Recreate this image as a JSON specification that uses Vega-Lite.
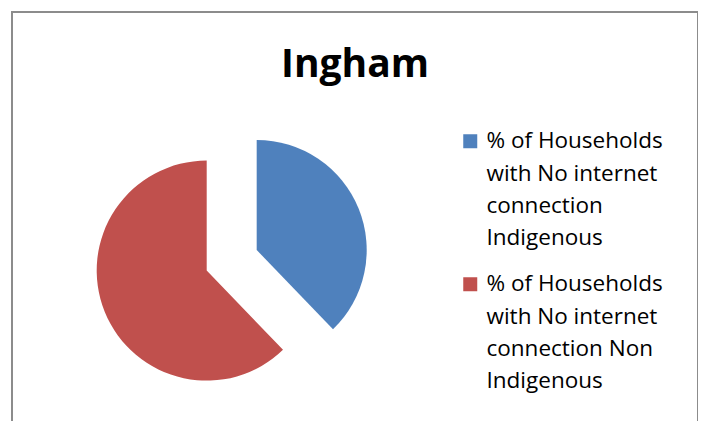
{
  "$schema": "https://vega.github.io/schema/vega-lite/v6.json",
  "width": 686,
  "height": 430,
  "autosize": {"type": "none"},
  "padding": {"left": 12, "top": 12, "right": 0, "bottom": 0},
  "background": "white",
  "view": {"stroke": "#8c8c8c", "strokeWidth": 2},
  "title": {
    "text": "Ingham",
    "font": "Open Sans",
    "fontSize": 39,
    "fontWeight": "bold",
    "color": "#000000",
    "anchor": "middle",
    "baseline": "alphabetic",
    "offset": -104
  },
  "data": {
    "values": [
      {"category": "% of Households with No internet connection Indigenous", "value": 37.8},
      {"category": "% of Households with No internet connection Non Indigenous", "value": 62.2}
    ]
  },
  "transform": [
    {"stack": "value", "groupby": [], "sort": [{"field": "category", "order": "ascending"}], "as": ["v0", "v1"]}
  ],
  "encoding": {
    "theta": {"field": "v0", "type": "quantitative", "scale": {"domain": [0, 100], "range": [0, 6.283185307179586]}},
    "theta2": {"field": "v1"},
    "color": {
      "field": "category",
      "type": "nominal",
      "scale": {
        "domain": ["% of Households with No internet connection Indigenous", "% of Households with No internet connection Non Indigenous"],
        "range": ["#4F81BD", "#C0504D"]
      },
      "legend": {
        "title": null,
        "orient": "none",
        "legendX": 447,
        "legendY": 118,
        "symbolType": "square",
        "symbolSize": 196,
        "symbolStrokeWidth": 0,
        "symbolOpacity": 1,
        "labelFont": "Open Sans",
        "labelFontSize": 22.5,
        "labelColor": "#000000",
        "labelLimit": 400,
        "labelOffset": 5,
        "labelBaseline": "top",
        "rowPadding": 23,
        "labelExpr": "indexof(datum.label, 'Non') >= 0 ? ['% of Households', 'with No internet', 'connection Non', 'Indigenous'] : ['% of Households', 'with No internet', 'connection', 'Indigenous']"
      }
    }
  },
  "layer": [
    {
      "transform": [{"filter": "indexof(datum.category, 'Non') < 0"}],
      "mark": {"type": "arc", "radius": 110, "x": 244.7, "y": 238, "stroke": null}
    },
    {
      "transform": [{"filter": "indexof(datum.category, 'Non') >= 0"}],
      "mark": {"type": "arc", "radius": 110, "x": 194.7, "y": 258.6, "stroke": null}
    }
  ],
  "config": {
    "view": {"stroke": "#8c8c8c", "strokeWidth": 2},
    "style": {"guide-label": {"lineHeight": 32.3, "dy": -11}}
  }
}
